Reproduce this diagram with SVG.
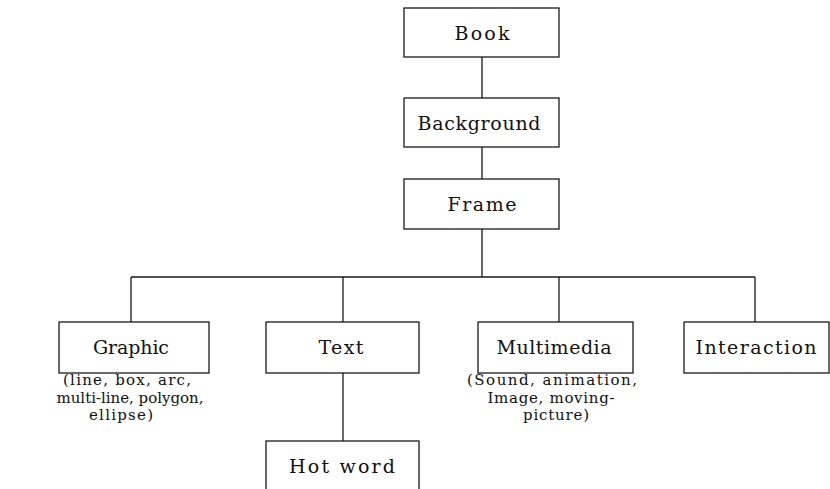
<svg xmlns="http://www.w3.org/2000/svg" width="830" height="489" viewBox="0 0 830 489">
<style>
.box{fill:#fff;stroke:#1a1a1a;stroke-width:1.3}
.lbl{font-family:"DejaVu Serif","Liberation Serif",serif;font-size:19px;fill:#111;text-anchor:middle}
.note{font-family:"DejaVu Serif","Liberation Serif",serif;font-size:15px;fill:#111;text-anchor:middle}
.conn{fill:none;stroke:#1a1a1a;stroke-width:1.3}
</style>
<rect width="830" height="489" fill="#fff"/>
<g id="connectors">
<path class="conn" d="M482 57V98M482 147V179M482 229V277M131 277H755M131 277V322M343 277V322M559 277V322M755 277V322M343 373V441"/>
</g>
<g id="book"><rect class="box" x="404" y="8" width="155" height="49"/><text class="lbl" x="482" y="40" textLength="55" lengthAdjust="spacing">Book</text></g>
<g id="background"><rect class="box" x="404" y="98" width="155" height="49"/><text class="lbl" x="479" y="130" textLength="123" lengthAdjust="spacing">Background</text></g>
<g id="frame"><rect class="box" x="404" y="179" width="155" height="50"/><text class="lbl" x="482" y="211" textLength="69" lengthAdjust="spacing">Frame</text></g>
<g id="graphic"><rect class="box" x="59" y="322" width="150" height="51"/><text class="lbl" x="131" y="354" textLength="76" lengthAdjust="spacing">Graphic</text>
<text class="note" x="127" y="385" textLength="128" lengthAdjust="spacing">(line, box, arc,</text>
<text class="note" x="130" y="402.5" textLength="147" lengthAdjust="spacing">multi-line, polygon,</text>
<text class="note" x="121" y="420" textLength="64" lengthAdjust="spacing">ellipse)</text></g>
<g id="text"><rect class="box" x="266" y="322" width="153" height="51"/><text class="lbl" x="341" y="354" textLength="45" lengthAdjust="spacing">Text</text></g>
<g id="multimedia"><rect class="box" x="478" y="322" width="155" height="51"/><text class="lbl" x="554" y="354" textLength="115" lengthAdjust="spacing">Multimedia</text>
<text class="note" x="552" y="385" textLength="170" lengthAdjust="spacing">(Sound, animation,</text>
<text class="note" x="551" y="402.5" textLength="127" lengthAdjust="spacing">Image, moving-</text>
<text class="note" x="556" y="420" textLength="66" lengthAdjust="spacing">picture)</text></g>
<g id="interaction"><rect class="box" x="684" y="322" width="145" height="51"/><text class="lbl" x="756" y="354" textLength="121" lengthAdjust="spacing">Interaction</text></g>
<g id="hotword"><rect class="box" x="266" y="441" width="153" height="50"/><text class="lbl" x="342" y="473" textLength="106" lengthAdjust="spacing">Hot word</text></g>
</svg>
